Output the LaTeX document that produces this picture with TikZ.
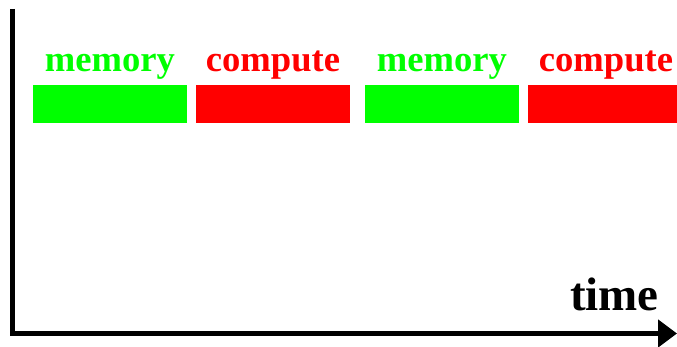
\documentclass[tikz,border=0pt]{standalone}
\usepackage{fontspec}
\setmainfont{Liberation Serif}
\usetikzlibrary{arrows.meta}
\definecolor{memgreen}{RGB}{0,255,0}
\definecolor{compred}{RGB}{255,0,0}

\begin{document}
\begin{tikzpicture}[x=1pt,y=-1pt,
	bar/.style={shape=rectangle,inner sep=0pt,minimum width=154pt,minimum height=38pt},
	lbl/.style={anchor=base,inner sep=0pt,font=\fontsize{36.6}{40}\selectfont\bfseries}]
	    \useasboundingbox (0,0) rectangle (677,347);

	    \node[bar,fill=memgreen] (M1) at (110,104) {};
	    \node[bar,fill=compred] (C1) at (273,104) {};
	    \node[bar,fill=memgreen] (M2) at (442,104) {};
	    \node[bar,fill=compred,minimum width=149pt] (C2) at (602.5,104) {};

	    \node[lbl,text=memgreen] (LM1) at (M1.center |- 0,72) {memory};
	    \node[lbl,text=compred] (LC1) at (C1.center |- 0,72) {compute};
	    \node[lbl,text=memgreen] (LM2) at (M2.center |- 0,72) {memory};
	    \node[lbl,text=compred] (LC2) at (606,72) {compute};

	    \coordinate (top) at (12.5,9);
	    \coordinate (O) at (12.5,333.5);
	    \coordinate (end) at (677,333.5);
	    \draw[line width=5pt,line join=miter,-{Triangle[length=19pt,width=27pt]}] (top) -- (O) -- (end);

	    \node[anchor=base east,inner sep=0pt,font=\fontsize{47}{50}\selectfont\bfseries] (T) at (659,310) {time};
	\end{tikzpicture}
\end{document}
